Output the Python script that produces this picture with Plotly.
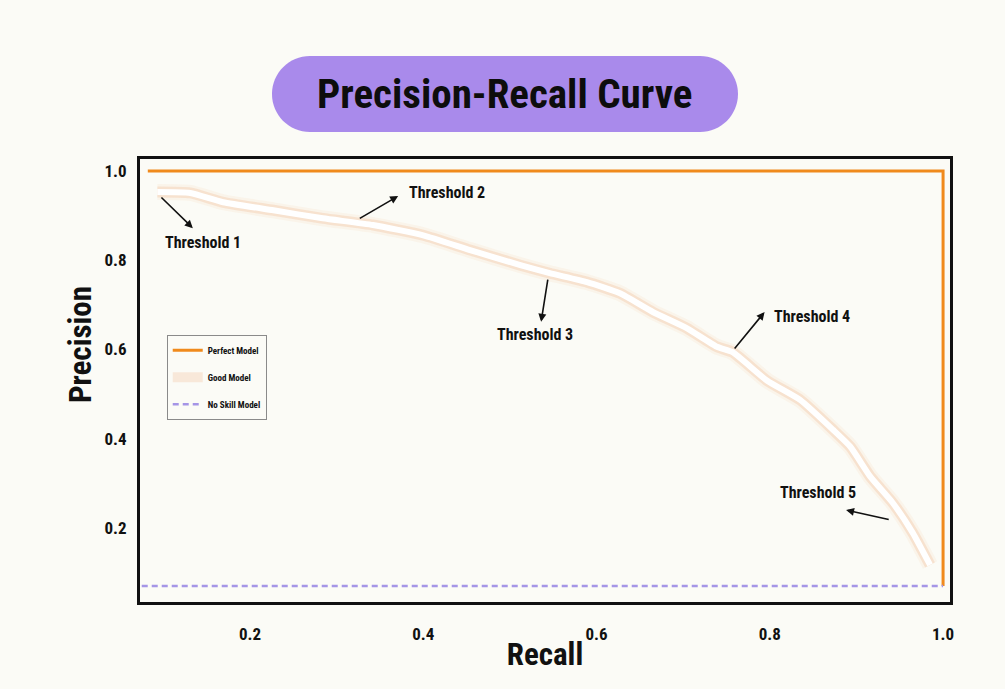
import plotly.graph_objects as go

# ---------------- data ----------------
good_recall = [0.093, 0.131, 0.169, 0.227, 0.284, 0.342, 0.400, 0.454, 0.512, 0.546,
               0.589, 0.627, 0.665, 0.704, 0.739, 0.757, 0.797, 0.835, 0.873, 0.893,
               0.916, 0.942, 0.965, 0.985]
good_precision = [0.953, 0.951, 0.930, 0.912, 0.894, 0.879, 0.856, 0.823, 0.789, 0.771,
                  0.751, 0.726, 0.684, 0.648, 0.606, 0.594, 0.530, 0.487, 0.420, 0.382,
                  0.315, 0.256, 0.189, 0.117]

perfect_recall = [0.082, 1.0, 1.0]
perfect_precision = [1.0, 1.0, 0.07]

noskill_recall = [0.075, 1.0]
noskill_precision = [0.07, 0.07]

tick_vals = [0.2, 0.4, 0.6, 0.8, 1.0]
tick_text = ["<b>0.2</b>", "<b>0.4</b>", "<b>0.6</b>", "<b>0.8</b>", "<b>1.0</b>"]

threshold_labels = ["Threshold 1", "Threshold 2", "Threshold 3", "Threshold 4", "Threshold 5"]
label_x = [0.146, 0.427, 0.529, 0.849, 0.856]
label_y = [0.839, 0.951, 0.633, 0.675, 0.279]
arrow_tail_x = [0.096, 0.325, 0.544, 0.758, 0.939]
arrow_tail_y = [0.944, 0.892, 0.760, 0.599, 0.218]
arrow_head_x = [0.134, 0.371, 0.536, 0.794, 0.888]
arrow_head_y = [0.872, 0.944, 0.662, 0.684, 0.240]

# ---------------- style ----------------
BG = "#fbfbf6"
FONT = "Liberation Sans Narrow, Roboto Condensed, DejaVu Sans Condensed, Roboto, sans-serif"
ORANGE = "#f08a1c"
PURPLE_DASH = "#a595e6"
PILL = "#a98aeb"

fig = go.Figure()

fig.add_trace(go.Scatter(
    x=perfect_recall, y=perfect_precision, mode="lines", name="<b>Perfect Model</b>",
    line=dict(color=ORANGE, width=3), legendgroup="a", hoverinfo="skip"))

# glow layers for the good model
fig.add_trace(go.Scatter(
    x=good_recall, y=good_precision, mode="lines", name="<b>Good Model</b>",
    line=dict(color="rgba(240,150,90,0.18)", width=11, shape="spline", smoothing=0.5),
    legendgroup="b", hoverinfo="skip"))
fig.add_trace(go.Scatter(
    x=good_recall, y=good_precision, mode="lines", showlegend=False,
    line=dict(color="rgba(240,150,90,0.07)", width=16, shape="spline", smoothing=0.5),
    legendgroup="b", hoverinfo="skip"))
fig.add_trace(go.Scatter(
    x=good_recall, y=good_precision, mode="lines", showlegend=False,
    line=dict(color="#ffffff", width=6, shape="spline", smoothing=0.5),
    legendgroup="b", hoverinfo="skip"))

fig.add_trace(go.Scatter(
    x=noskill_recall, y=noskill_precision, mode="lines", name="<b>No Skill Model</b>",
    line=dict(color=PURPLE_DASH, width=2.5, dash="6px,4px"), legendgroup="c", hoverinfo="skip"))

annotations = []
for t, lx, ly, tx, ty, hx, hy in zip(threshold_labels, label_x, label_y,
                                     arrow_tail_x, arrow_tail_y, arrow_head_x, arrow_head_y):
    annotations.append(dict(x=lx, y=ly, xref="x", yref="y", text=f"<b>{t}</b>", showarrow=False,
                            font=dict(family=FONT, size=16, color="#111111"),
                            xanchor="center", yanchor="middle"))
    annotations.append(dict(x=hx, y=hy, ax=tx, ay=ty, xref="x", yref="y",
                            axref="x", ayref="y", text="", showarrow=True,
                            arrowhead=2, arrowsize=1.0, arrowwidth=1.6, arrowcolor="#111111"))

# title pill text
annotations.append(dict(x=0.4506, y=1.1467, xref="paper", yref="paper",
                        text="<b>Precision-Recall Curve</b>", showarrow=False,
                        font=dict(family=FONT, size=41, color="#0d0d0d"),
                        xanchor="center", yanchor="middle"))

# y-axis title placed to match the reference position
annotations.append(dict(x=(80 - 140) / 810, y=0.58, xref="paper", yref="paper",
                        text="<b>Precision</b>", showarrow=False, textangle=-90,
                        xanchor="center", yanchor="middle",
                        font=dict(family=FONT, size=31, color="#111111")))

k = 21
pill_path = (f"M -195,-38 L 195,-38 C {195+k},-38 233,{-k} 233,0 C 233,{k} {195+k},38 195,38 "
             f"L -195,38 C {-195-k},38 -233,{k} -233,0 C -233,{-k} {-195-k},-38 -195,-38 Z")

fig.update_layout(
    width=1005, height=689,
    paper_bgcolor=BG, plot_bgcolor=BG,
    margin=dict(l=140, r=55, t=159, b=87),
    font=dict(family=FONT, color="#111111"),
    showlegend=True,
    legend=dict(x=0.033, y=0.603, xanchor="left", yanchor="top",
                bgcolor=BG, bordercolor="#8a8a8a", borderwidth=1,
                font=dict(family=FONT, size=9, color="#111111"),
                itemwidth=30, tracegroupgap=8, traceorder="grouped"),
    annotations=annotations,
    shapes=[dict(type="path", xref="paper", yref="paper",
                 xsizemode="pixel", ysizemode="pixel",
                 xanchor=0.4506, yanchor=1.1467,
                 path=pill_path, fillcolor=PILL, line=dict(width=0), layer="below")],
)

fig.update_xaxes(
    range=[0.073, 1.008], tickvals=tick_vals, ticktext=tick_text,
    showgrid=False, zeroline=False, showline=True, mirror=True,
    linecolor="#111111", linewidth=3, ticks="", ticklabelstandoff=15,
    tickfont=dict(family=FONT, size=17, color="#111111"),
    title=dict(text="<b>Recall</b>", font=dict(family=FONT, size=31, color="#111111"), standoff=0),
)
fig.update_yaxes(
    range=[0.034, 1.027], tickvals=tick_vals, ticktext=tick_text,
    showgrid=False, zeroline=False, showline=True, mirror=True,
    linecolor="#111111", linewidth=3, ticks="", ticklabelstandoff=7,
    tickfont=dict(family=FONT, size=17, color="#111111"),
)

fig.write_html("out.html")
